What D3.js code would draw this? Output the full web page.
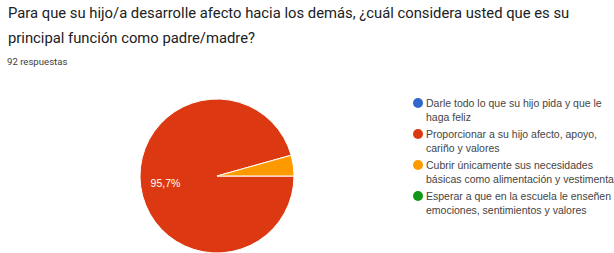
<!DOCTYPE html>
<html>
<head>
<meta charset="utf-8">
<script src="https://cdn.jsdelivr.net/npm/d3@7"></script>
<style>
  body { margin: 0; background: #fff; }
  svg { display: block; }
</style>
</head>
<body>
<script>
let width = 614,
  height = 253

let titleLines = [
  'Para que su hijo/a desarrolle afecto hacia los demás, ¿cuál considera usted que es su',
  'principal función como padre/madre?'
]
let responses = '92 respuestas'

let categories = [
  ['Darle todo lo que su hijo pida y que le', 'haga feliz'],
  ['Proporcionar a su hijo afecto, apoyo,', 'cariño y valores'],
  ['Cubrir únicamente sus necesidades', 'básicas como alimentación y vestimenta'],
  ['Esperar a que en la escuela le enseñen', 'emociones, sentimientos y valores']
]
let values = [0, 88, 4, 0]
let colors = ['#3366cc', '#dc3912', '#ff9900', '#109618']

let svg = d3.select('body').append('svg')
  .attr('width', width)
  .attr('height', height)

// title
svg.append('g').selectAll('text')
  .data(titleLines)
  .enter()
  .append('text')
  .attr('x', 8)
  .attr('y', (d, i) => 18 + i * 25)
  .attr('font-family', 'Roboto, sans-serif')
  .attr('font-size', 14.8)
  .attr('fill', '#202124')
  .text(d => d)

svg.append('text')
  .attr('x', 7)
  .attr('y', 65)
  .attr('font-family', 'Roboto, sans-serif')
  .attr('font-size', 9.6)
  .attr('fill', '#3c4043')
  .text(responses)

// pie
let cx = 217, cy = 176, radius = 77
let total = d3.sum(values)

let pie = d3.pie()
  .sort(null)
  .value(d => d)
  .startAngle(Math.PI / 2)
  .endAngle(Math.PI / 2 + 2 * Math.PI)

let arc = d3.arc().innerRadius(0).outerRadius(radius)
let labelArc = d3.arc().innerRadius(52).outerRadius(52)

let pieG = svg.append('g')
  .attr('transform', 'translate(' + cx + ', ' + cy + ')')

let slices = pie(values)

pieG.selectAll('path')
  .data(slices.filter(d => d.value > 0))
  .enter()
  .append('path')
  .attr('d', arc)
  .attr('fill', d => colors[d.index])
  .attr('stroke', '#fff')
  .attr('stroke-width', 1)

pieG.selectAll('text')
  .data(slices.filter(d => d.value / total > 0.05))
  .enter()
  .append('text')
  .attr('transform', d => 'translate(' + labelArc.centroid(d) + ')')
  .attr('text-anchor', 'middle')
  .attr('dy', '0.35em')
  .attr('font-family', 'Liberation Sans, Arial, sans-serif')
  .attr('font-size', 10.5)
  .attr('fill', '#fff')
  .text(d => (d.value / total * 100).toFixed(1).replace('.', ',') + '%')

// legend
let legend = svg.selectAll('g.legend')
  .data(categories)
  .enter()
  .append('g')
  .attr('class', 'legend')
  .attr('transform', (d, i) => 'translate(418, ' + (103 + i * 31) + ')')

legend.append('circle')
  .attr('r', 5)
  .attr('fill', (d, i) => colors[i])

legend.selectAll('text')
  .data(d => d)
  .enter()
  .append('text')
  .attr('x', 8)
  .attr('y', (d, i) => i * 14)
  .attr('dy', '0.35em')
  .attr('font-family', 'Liberation Sans, Arial, sans-serif')
  .attr('font-size', 10.5)
  .attr('fill', '#444')
  .text(d => d)
</script>
</body>
</html>
